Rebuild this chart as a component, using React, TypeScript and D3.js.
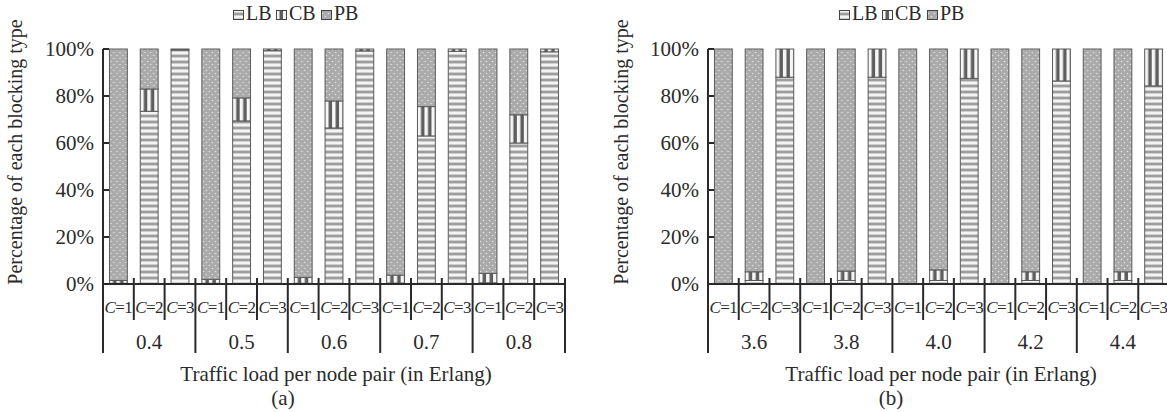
import React from "react";
import * as d3 from "d3";

const loadsA = ["0.4", "0.5", "0.6", "0.7", "0.8"];
const loadsB = ["3.6", "3.8", "4.0", "4.2", "4.4"];
const capacities = ["1", "2", "3"];
const seriesNames = ["LB", "CB", "PB"];
const yTicks = [0, 20, 40, 60, 80, 100];

// one value per bar, ordered load-major, capacity-minor (C=1, C=2, C=3)
const lbA = [0.3, 73.5, 99.6, 0.3, 69.4, 99.3, 0.3, 66.4, 99.2, 0.4, 63.0, 99.0, 0.5, 60.0, 98.8];
const cbA = [1.2, 9.5, 0.4, 1.7, 9.8, 0.7, 2.5, 11.5, 0.8, 3.4, 12.5, 1.0, 4.0, 12.0, 1.2];
const pbA = [98.5, 17.0, 0.0, 98.0, 20.8, 0.0, 97.2, 22.1, 0.0, 96.2, 24.5, 0.0, 95.5, 28.0, 0.0];

const lbB = [0.0, 1.5, 88.0, 0.0, 1.5, 88.0, 0.0, 1.5, 87.5, 0.0, 1.5, 86.4, 0.0, 1.5, 84.3];
const cbB = [0.0, 3.7, 12.0, 0.0, 4.0, 12.0, 0.0, 4.5, 12.5, 0.0, 3.7, 13.6, 0.0, 3.7, 15.7];
const pbB = [100, 94.8, 0.0, 100, 94.5, 0.0, 100, 94.0, 0.0, 100, 94.8, 0.0, 100, 94.8, 0.0];

const FONT = "'Liberation Serif', 'Times New Roman', Times, serif";
const INK = "#2a2a2a";

const fills: Record<string, string> = { LB: "url(#patLB)", CB: "url(#patCB)", PB: "url(#patPB)" };

type PanelProps = {
  loads: string[];
  lb: number[];
  cb: number[];
  pb: number[];
  x0: number;
  x1: number;
  tag: string;
  yTitleX: number;
  xTitleX: number;
  tagX: number;
  legendX: number;
};

const Y_TOP = 49;
const Y_BASE = 284;

function Panel(p: PanelProps) {
  const y = d3.scaleLinear().domain([0, 100]).range([Y_BASE, Y_TOP]);
  const xg = d3.scaleBand<string>().domain(p.loads).range([p.x0, p.x1]).padding(0);
  const xc = d3
    .scaleBand<string>()
    .domain(capacities)
    .range([0, xg.bandwidth()])
    .paddingInner(0.42)
    .paddingOuter(0.21);
  const step = xc.step();

  const rows = p.loads.flatMap((load, gi) =>
    capacities.map((c, ci) => {
      const i = gi * capacities.length + ci;
      return { load, cap: c, LB: p.lb[i], CB: p.cb[i], PB: p.pb[i] };
    })
  );
  const stacked = d3.stack<any>().keys(seriesNames)(rows);

  const legendOffsets = [0, 43, 88];

  return (
    <g>
      {/* legend */}
      {seriesNames.map((s, i) => (
        <g key={s} transform={`translate(${p.legendX + legendOffsets[i]},0)`}>
          <rect x={0.5} y={10.5} width={10} height={9} fill={fills[s]} stroke="#444" strokeWidth={1} />
          <text x={13} y={20} fontFamily={FONT} fontSize={20} fill={INK}>
            {s}
          </text>
        </g>
      ))}

      {/* bars */}
      {rows.map((r, ri) => {
        const bx = (xg(r.load) as number) + (xc(r.cap) as number);
        return (
          <g key={ri} transform={`translate(${bx},0)`}>
            {stacked.map((layer) => {
              const d = layer[ri];
              const h = y(d[0]) - y(d[1]);
              if (h <= 0.05) return null;
              return (
                <rect
                  key={layer.key}
                  x={0}
                  y={y(d[1])}
                  width={xc.bandwidth()}
                  height={h}
                  fill={fills[layer.key]}
                  stroke="#5a5a5a"
                  strokeWidth={1}
                />
              );
            })}
          </g>
        );
      })}

      {/* y axis */}
      <line x1={p.x0} x2={p.x0} y1={Y_TOP} y2={353} stroke={INK} strokeWidth={2} />
      {yTicks.map((t) => (
        <g key={t}>
          {t > 0 && <line x1={p.x0} x2={p.x0 + 6} y1={y(t)} y2={y(t)} stroke={INK} strokeWidth={2} />}
          <text
            x={p.x0 - 9}
            y={y(t) + 7}
            textAnchor="end"
            fontFamily={FONT}
            fontSize={21}
            fill={INK}
          >
            {t}%
          </text>
        </g>
      ))}
      <text
        transform={`translate(${p.yTitleX},152) rotate(-90)`}
        textAnchor="middle"
        fontFamily={FONT}
        fontSize={20}
        fill={INK}
      >
        Percentage of each blocking type
      </text>

      {/* x axis baseline */}
      <line x1={p.x0} x2={p.x1} y1={Y_BASE} y2={Y_BASE} stroke={INK} strokeWidth={2} />

      {/* separators & labels */}
      {p.loads.map((load) => {
        const gx = xg(load) as number;
        return (
          <g key={load}>
            {capacities.map((c, ci) => (
              <g key={c}>
                {ci > 0 && (
                  <line
                    x1={gx + ci * step}
                    x2={gx + ci * step}
                    y1={278}
                    y2={320}
                    stroke={INK}
                    strokeWidth={2}
                  />
                )}
                <text
                  x={gx + (xc(c) as number) + xc.bandwidth() / 2}
                  y={313}
                  textAnchor="middle"
                  fontFamily={FONT}
                  fontSize={17}
                  letterSpacing={-0.6}
                  fill={INK}
                >
                  <tspan fontStyle="italic">C</tspan>={c}
                </text>
              </g>
            ))}
            <text
              x={gx + xg.bandwidth() / 2}
              y={349}
              textAnchor="middle"
              fontFamily={FONT}
              fontSize={21}
              fill={INK}
            >
              {load}
            </text>
          </g>
        );
      })}
      {[...p.loads.map((l) => xg(l) as number), p.x1].map((sx, i) =>
        i === 0 ? null : (
          <line key={i} x1={sx} x2={sx} y1={278} y2={353} stroke={INK} strokeWidth={2} />
        )
      )}

      <text x={p.xTitleX} y={381} textAnchor="middle" fontFamily={FONT} fontSize={21} fill={INK}>
        Traffic load per node pair (in Erlang)
      </text>
      <text x={p.tagX} y={405} textAnchor="middle" fontFamily={FONT} fontSize={21} fill={INK}>
        ({p.tag})
      </text>
    </g>
  );
}

export default function App() {
  return (
    <svg
      width={1167}
      height={412}
      viewBox="0 0 1167 412"
      style={{ position: "absolute", left: 0, top: 0, background: "#fff" }}
    >
      <defs>
        <pattern id="patLB" patternUnits="userSpaceOnUse" width={6} height={6}>
          <rect width={6} height={6} fill="#f4f4f4" />
          <rect y={0} width={6} height={1} fill="#cfcfcf" />
          <rect y={1} width={6} height={2} fill="#9d9d9d" />
          <rect y={3} width={6} height={1} fill="#cfcfcf" />
        </pattern>
        <pattern id="patCB" patternUnits="userSpaceOnUse" width={7} height={6}>
          <rect width={7} height={6} fill="#f6f6f6" />
          <rect x={3.5} width={3.5} height={6} fill="#5e5e5e" />
        </pattern>
        <pattern id="patPB" patternUnits="userSpaceOnUse" width={6} height={6}>
          <rect width={6} height={6} fill="#aaaaaa" />
          <circle cx={1.5} cy={1.5} r={0.8} fill="#e4e4e4" />
          <circle cx={4.5} cy={4.5} r={0.8} fill="#e4e4e4" />
        </pattern>
      </defs>
      <Panel
        loads={loadsA}
        lb={lbA}
        cb={cbA}
        pb={pbA}
        x0={103}
        x1={565}
        tag="a"
        yTitleX={22}
        xTitleX={336}
        tagX={283}
        legendX={233}
      />
      <Panel
        loads={loadsB}
        lb={lbB}
        cb={cbB}
        pb={pbB}
        x0={708}
        x1={1169}
        tag="b"
        yTitleX={628}
        xTitleX={941}
        tagX={891}
        legendX={839}
      />
    </svg>
  );
}
